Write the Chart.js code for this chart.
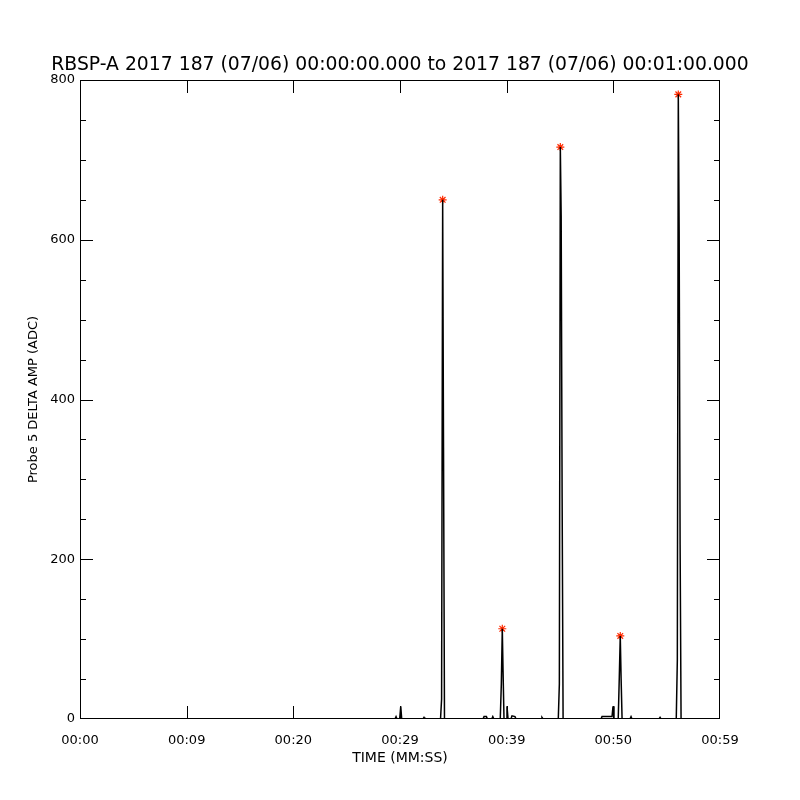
<!DOCTYPE html>
<html>
<head>
<meta charset="utf-8">
<script src="https://cdn.jsdelivr.net/npm/chart.js@4.4.1/dist/chart.umd.min.js"></script>
<style>
  html, body { margin: 0; padding: 0; background: #fff; }
  #wrap { width: 800px; height: 800px; }
</style>
</head>
<body>
<div id="wrap"><canvas id="c" width="800" height="800"></canvas></div>
<script>
// ---- data (seconds after 00:00:00, ADC) ----
const titleText = "RBSP-A 2017 187 (07/06) 00:00:00.000 to 2017 187 (07/06) 00:01:00.000";
const yTitle = "Probe 5 DELTA AMP (ADC)";
const xTitle = "TIME (MM:SS)";
const xTickLabels = ["00:00", "00:09", "00:20", "00:29", "00:39", "00:50", "00:59"];
const yTickLabels = ["0", "200", "400", "600", "800"];

const times = [0, 29.53, 29.63, 29.72, 29.97, 30.07, 30.16, 32.16, 32.25, 32.34,
  33.8, 33.9, 34.0, 34.08, 34.17,
  37.78, 37.88, 38.1, 38.2, 38.6, 38.7, 38.8,
  39.4, 39.5, 39.59, 39.66, 39.75,
  39.94, 40.03, 40.13, 40.4, 40.5, 40.78, 40.88,
  43.22, 43.31, 43.41,
  44.84, 44.94, 45.03, 45.11, 45.2, 45.29,
  48.84, 48.94, 49.88, 49.97, 50.06,
  50.46, 50.56, 50.65, 50.73, 50.82,
  51.56, 51.66, 51.75, 54.28, 54.38, 54.47,
  55.9, 56.0, 56.09, 56.17, 56.26, 56.35,
  60];
const amps = [0, 0, 3, 0, 0, 16, 0, 0, 2, 0,
  0, 25, 650, 340, 0,
  0, 3, 3, 0, 0, 3, 0,
  0, 44, 113, 61, 0,
  0, 16, 0, 0, 4, 3, 0,
  0, 2, 0,
  0, 44, 716, 630, 276, 0,
  0, 3, 3, 16, 0,
  0, 53, 104, 50, 0,
  0, 3, 0, 0, 2, 0,
  0, 74, 782, 611, 218, 0,
  0];
const peakTimes = [34.0, 39.59, 45.03, 50.65, 56.09];
const peakAmps = [650, 113, 716, 104, 782];

const FONT = "'DejaVu Sans', sans-serif";

const inwardTicks = {
  id: 'inwardTicks',
  afterDatasetsDraw(chart) {
    const {ctx, chartArea: a, scales: {x, y}} = chart;
    ctx.save();
    ctx.strokeStyle = '#000';
    ctx.lineWidth = 1;
    ctx.beginPath();
    for (let v = 10; v < 60; v += 10) {
      const px = Math.round(x.getPixelForValue(v)) + 0.5;
      ctx.moveTo(px, a.bottom); ctx.lineTo(px, a.bottom - 13);
      ctx.moveTo(px, a.top); ctx.lineTo(px, a.top + 13);
    }
    for (let v = 50; v < 800; v += 50) {
      const py = Math.round(y.getPixelForValue(v)) + 0.5;
      const len = (v % 200 === 0) ? 13 : 6;
      ctx.moveTo(a.left, py); ctx.lineTo(a.left + len, py);
      ctx.moveTo(a.right, py); ctx.lineTo(a.right - len, py);
    }
    ctx.stroke();
    ctx.strokeRect(Math.round(a.left) + 0.5, Math.round(a.top) + 0.5,
                   Math.round(a.right - a.left) - 1, Math.round(a.bottom - a.top) - 1);
    ctx.restore();
  }
};

new Chart(document.getElementById('c'), {
  type: 'line',
  data: {
    datasets: [
      {
        data: times.map((t, i) => ({x: t, y: amps[i]})),
        borderColor: '#000', borderWidth: 1.5, pointRadius: 0, tension: 0, fill: false
      },
      {
        type: 'scatter',
        data: peakTimes.map((t, i) => ({x: t, y: peakAmps[i]})),
        pointStyle: 'star', pointRadius: 4, borderColor: '#ff2a00', borderWidth: 1.2,
        backgroundColor: '#ff2a00', showLine: false
      }
    ]
  },
  options: {
    responsive: false,
    animation: false,
    devicePixelRatio: 1,
    layout: { padding: 0 },
    plugins: {
      legend: { display: false },
      tooltip: { enabled: false },
      title: {
        display: true, text: titleText, color: '#000',
        font: { family: FONT, size: 18.8, weight: 'normal' },
        padding: { top: 54, bottom: 3.44 }
      }
    },
    scales: {
      x: {
        type: 'linear', min: 0, max: 60,
        afterFit: s => { s.height = 81; },
        afterBuildTicks: s => { s.ticks = xTickLabels.map((_, i) => ({value: i * 10})); },
        ticks: {
          color: '#000', padding: 14, maxRotation: 0, autoSkip: false,
          font: { family: FONT, size: 13 },
          callback: (v, i) => xTickLabels[i]
        },
        grid: { display: false, drawTicks: false },
        border: { display: false },
        title: {
          display: true, text: xTitle, color: '#000',
          font: { family: FONT, size: 14 }, padding: { top: 0, bottom: 33.6 }
        }
      },
      y: {
        type: 'linear', min: 0, max: 800,
        afterFit: s => { s.width = 80; },
        afterBuildTicks: s => { s.ticks = yTickLabels.map(l => ({value: Number(l)})); },
        ticks: {
          color: '#000', padding: 5,
          font: { family: FONT, size: 13 },
          callback: (v, i) => yTickLabels[i]
        },
        grid: { display: false, drawTicks: false },
        border: { display: false },
        title: {
          display: true, text: yTitle, color: '#000',
          font: { family: FONT, size: 13 }, padding: { top: 26, bottom: 0 }
        }
      },
      yRight: {
        type: 'linear', position: 'right', min: 0, max: 800,
        afterFit: s => { s.width = 80; },
        ticks: { display: false },
        grid: { display: false, drawTicks: false },
        border: { display: false }
      }
    }
  },
  plugins: [inwardTicks]
});
</script>
</body>
</html>
